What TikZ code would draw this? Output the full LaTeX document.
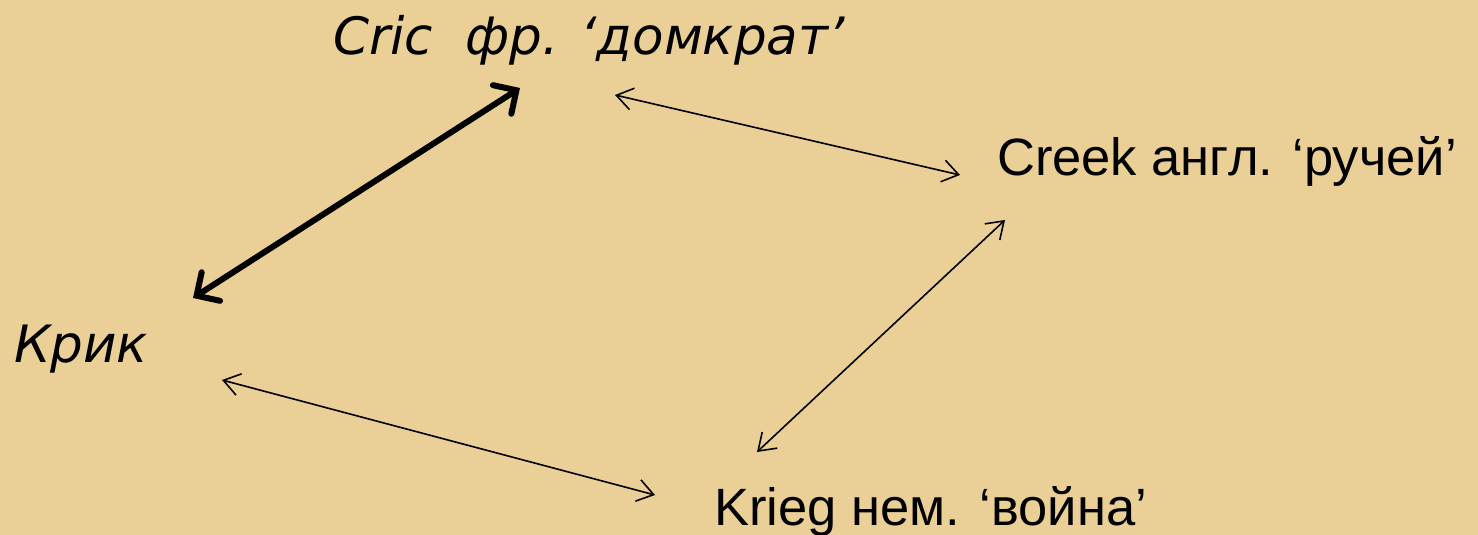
\documentclass[tikz,border=0pt]{standalone}
\usepackage{fontspec}
\setmainfont{Liberation Sans}
\newfontfamily\vit{DejaVu Sans}
\usetikzlibrary{arrows.meta}
\definecolor{papyrus}{RGB}{234,208,150}
\tikzset{
  up/.style={inner sep=0pt, anchor=base west, font=\fontsize{52.5}{60}\selectfont},
  it/.style={inner sep=0pt, anchor=base west, font=\vit\itshape\fontsize{51.5}{60}\selectfont},
  thin/.style={line width=1.6pt, {Straight Barb[length=16pt,width=22pt]}-{Straight Barb[length=16pt,width=22pt]}},
  thick/.style={line width=6pt, {Straight Barb[length=17pt,width=34pt,line cap=round]}-{Straight Barb[length=17pt,width=34pt,line cap=round]}}
}
\begin{document}
\begin{tikzpicture}[x=1pt,y=-1pt]
\fill[papyrus] (0,0) rectangle (1478,535);
\useasboundingbox (0,0) rectangle (1478,535);
\node[it] (cric) at (333,55) {Cric\ \ фр. ‘домкрат’};
\node[up] (creek) at (997,175) {Creek англ. ‘ручей’};
\node[it] (krik) at (14,362) {Крик};
\node[up] (krieg) at (714,525) {Krieg нем. ‘война’};
\coordinate (cricA) at (520,88);
\coordinate (cricB) at (615,95);
\coordinate (creekA) at (960,175);
\coordinate (creekB) at (1005,220);
\coordinate (krikA) at (193,298);
\coordinate (krikB) at (222,380);
\coordinate (kriegA) at (757,452);
\coordinate (kriegB) at (655,495);
\draw[thick] (krikA) -- (cricA);
\draw[thin] (cricB) -- (creekA);
\draw[thin] (creekB) -- (kriegA);
\draw[thin] (krikB) -- (kriegB);
\end{tikzpicture}
\end{document}
